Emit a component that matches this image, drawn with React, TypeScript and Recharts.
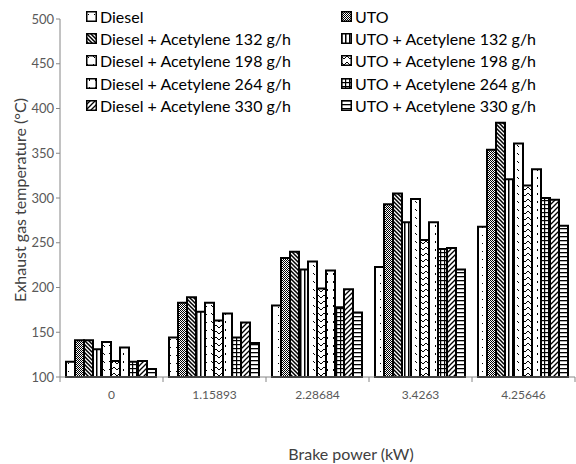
import { Bar, BarChart, XAxis, YAxis } from "recharts";

const categories = ["0", "1.15893", "2.28684", "3.4263", "4.25646"];

const diesel = [117, 144, 180, 223, 268];
const uto = [141, 183, 233, 293, 354];
const diesel132 = [141, 189, 240, 305, 384];
const uto132 = [131, 173, 220, 273, 321];
const diesel198 = [139, 183, 229, 299, 361];
const uto198 = [118, 163, 199, 253, 314];
const diesel264 = [133, 171, 219, 273, 332];
const uto264 = [117, 144, 178, 243, 300];
const diesel330 = [118, 161, 198, 244, 298];
const uto330 = [109, 138, 172, 220, 269];

const yTicks = [100, 150, 200, 250, 300, 350, 400, 450, 500];

const series = [
  { key: "diesel", name: "Diesel", values: diesel, pat: "p-dots" },
  { key: "uto", name: "UTO", values: uto, pat: "p-check" },
  { key: "d132", name: "Diesel + Acetylene 132 g/h", values: diesel132, pat: "p-back" },
  { key: "u132", name: "UTO + Acetylene 132 g/h", values: uto132, pat: "p-vert" },
  { key: "d198", name: "Diesel + Acetylene 198 g/h", values: diesel198, pat: "p-dash" },
  { key: "u198", name: "UTO + Acetylene 198 g/h", values: uto198, pat: "p-zig" },
  { key: "d264", name: "Diesel + Acetylene 264 g/h", values: diesel264, pat: "p-conf" },
  { key: "u264", name: "UTO + Acetylene 264 g/h", values: uto264, pat: "p-grid" },
  { key: "d330", name: "Diesel + Acetylene 330 g/h", values: diesel330, pat: "p-fwd" },
  { key: "u330", name: "UTO + Acetylene 330 g/h", values: uto330, pat: "p-horiz" },
];

const data = categories.map((c, i) => {
  const row: Record<string, string | number> = { name: c };
  series.forEach((s) => {
    row[s.key] = s.values[i];
  });
  return row;
});

const FONT = "Lato, 'Open Sans', sans-serif";
const BAND = 103;

function Patterns() {
  return (
    <svg width="0" height="0" style={{ position: "absolute" }}>
      <defs>
        <pattern id="p-dots" width="6" height="8" patternUnits="userSpaceOnUse">
          <rect width="6" height="8" fill="#fff" />
          <rect x="2" y="3" width="1" height="1" fill="#000" />
        </pattern>
        <pattern id="p-check" width="2" height="2" patternUnits="userSpaceOnUse">
          <rect width="2" height="2" fill="#fff" />
          <rect x="0" y="0" width="1" height="1" fill="#000" />
          <rect x="1" y="1" width="1" height="1" fill="#000" />
        </pattern>
        <pattern id="p-back" width="4" height="4" patternUnits="userSpaceOnUse">
          <rect width="4" height="4" fill="#fff" />
          <path d="M-1,-1 L5,5 M-1,3 L1,5 M3,-1 L5,1" stroke="#000" strokeWidth="1.5" />
        </pattern>
        <pattern id="p-vert" width="4" height="4" patternUnits="userSpaceOnUse">
          <rect width="4" height="4" fill="#fff" />
          <rect x="0" y="0" width="1.5" height="4" fill="#000" />
        </pattern>
        <pattern id="p-dash" width="6" height="8" patternUnits="userSpaceOnUse">
          <rect width="6" height="8" fill="#fff" />
          <path d="M1,1 L3,3" stroke="#000" strokeWidth="1" />
        </pattern>
        <pattern id="p-zig" width="6" height="6" patternUnits="userSpaceOnUse">
          <rect width="6" height="6" fill="#fff" />
          <path d="M0,1 L3,4 L6,1" stroke="#000" strokeWidth="1" fill="none" />
        </pattern>
        <pattern id="p-conf" width="6" height="8" patternUnits="userSpaceOnUse">
          <rect width="6" height="8" fill="#fff" />
          <path d="M3,1 L4,2 L3,3" stroke="#000" strokeWidth="1" fill="none" />
        </pattern>
        <pattern id="p-grid" width="4" height="4" patternUnits="userSpaceOnUse">
          <rect width="4" height="4" fill="#fff" />
          <rect x="0" y="0" width="1.2" height="4" fill="#000" />
          <rect x="0" y="0" width="4" height="1.2" fill="#000" />
        </pattern>
        <pattern id="p-fwd" width="5" height="5" patternUnits="userSpaceOnUse">
          <rect width="5" height="5" fill="#fff" />
          <path d="M-1,6 L6,-1 M-1,1 L1,-1 M4,6 L6,4" stroke="#000" strokeWidth="1.3" />
        </pattern>
        <pattern id="p-horiz" width="4" height="4" patternUnits="userSpaceOnUse">
          <rect width="4" height="4" fill="#fff" />
          <rect x="0" y="0" width="4" height="1.3" fill="#000" />
        </pattern>
      </defs>
    </svg>
  );
}

// legend drawn over the plot area, two columns like the original
function LegendBox() {
  return (
    <div
      style={{
        position: "absolute",
        left: 86,
        top: 5,
        display: "grid",
        gridTemplateColumns: "255px 240px",
        fontFamily: FONT,
        fontSize: 16,
        color: "#000",
      }}
    >
      {series.map((s) => (
        <div key={s.key} style={{ display: "flex", alignItems: "center", height: 22.3 }}>
          <svg width="11" height="11" style={{ marginRight: 3 }}>
            <rect x="0.75" y="0.75" width="9.5" height="9.5" fill={`url(#${s.pat})`} stroke="#000" strokeWidth="1.5" />
          </svg>
          <span style={{ whiteSpace: "nowrap" }}>{s.name}</span>
        </div>
      ))}
    </div>
  );
}

function XTick(props: any) {
  const { x, y, payload, index } = props;
  return (
    <g>
      <line x1={x - BAND / 2} y1={y - 8} x2={x - BAND / 2} y2={y - 3} stroke="#868686" />
      {index === categories.length - 1 && (
        <line x1={x + BAND / 2} y1={y - 8} x2={x + BAND / 2} y2={y - 3} stroke="#868686" />
      )}
      <text x={x} y={y + 14} textAnchor="middle" fontSize={12} fill="#595959" fontFamily={FONT}>
        {payload.value}
      </text>
    </g>
  );
}

export default function App() {
  return (
    <div style={{ position: "absolute", left: 0, top: 0, width: 576, height: 464, background: "#fff" }}>
      <Patterns />
      <BarChart
        width={576}
        height={464}
        data={data}
        margin={{ top: 19, right: 1, bottom: 7, left: 0 }}
        barCategoryGap={6}
        barGap={0}
      >
        <XAxis
          dataKey="name"
          height={80}
          tickLine={false}
          tick={<XTick />}
          axisLine={{ stroke: "#868686" }}
          interval={0}
        />
        <YAxis
          width={60}
          domain={[100, 500]}
          ticks={yTicks}
          interval={0}
          tickSize={4}
          tickLine={{ stroke: "#868686" }}
          axisLine={{ stroke: "#868686" }}
          tick={{ fontSize: 13, fill: "#595959", fontFamily: FONT }}
        />
        {series.map((s) => (
          <Bar
            key={s.key}
            dataKey={s.key}
            name={s.name}
            fill={`url(#${s.pat})`}
            stroke="#000"
            strokeWidth={2}
            isAnimationActive={false}
          />
        ))}
      </BarChart>
      <LegendBox />
      <div
        style={{
          position: "absolute",
          left: 19,
          top: 200,
          transform: "translate(-50%, -50%) rotate(-90deg)",
          fontFamily: FONT,
          fontSize: 16,
          color: "#404040",
          whiteSpace: "nowrap",
        }}
      >
        Exhaust gas temperature (°C)
      </div>
      <div
        style={{
          position: "absolute",
          left: 351,
          top: 453,
          transform: "translate(-50%, -50%)",
          fontFamily: FONT,
          fontSize: 16,
          color: "#404040",
          whiteSpace: "nowrap",
        }}
      >
        Brake power (kW)
      </div>
    </div>
  );
}
